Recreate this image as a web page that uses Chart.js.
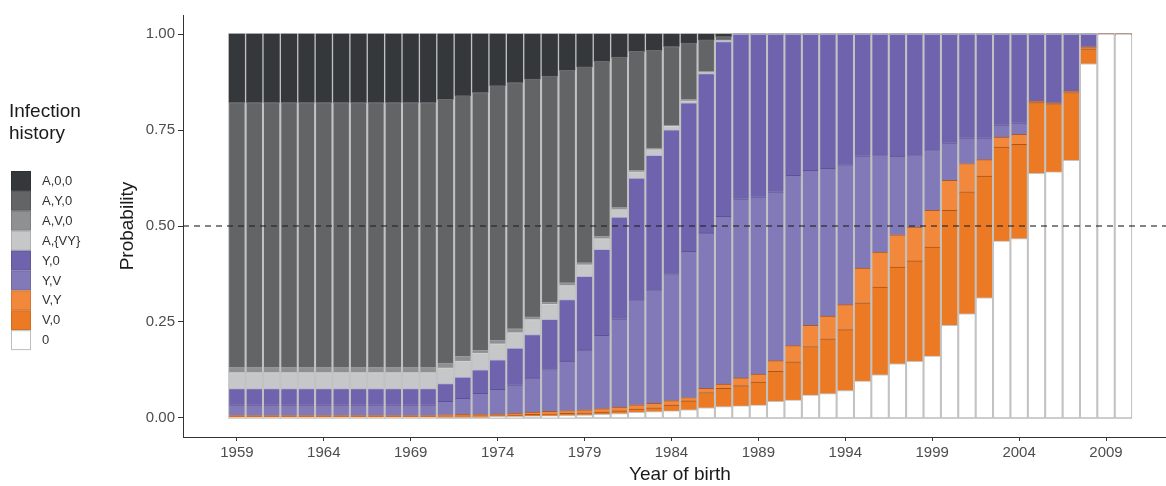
<!DOCTYPE html>
<html lang="en">
<head>
<meta charset="UTF-8" />
<title>Infection history by year of birth</title>
<script src="https://cdn.jsdelivr.net/npm/chart.js"></script>
<style>
  html, body { margin: 0; padding: 0; background: #fff; overflow: hidden; }
  #wrap { width: 1166px; height: 486px; }
</style>
</head>
<body>
<div id="wrap"><canvas id="chart" width="1166" height="486"></canvas></div>
<script>
  // years of birth (one bar each)
  const years = [1959, 1960, 1961, 1962, 1963, 1964, 1965, 1966, 1967, 1968, 1969, 1970,
    1971, 1972, 1973, 1974, 1975, 1976, 1977, 1978, 1979, 1980,
    1981, 1982, 1983, 1984, 1985, 1986, 1987, 1988, 1989, 1990,
    1991, 1992, 1993, 1994, 1995, 1996, 1997, 1998, 1999, 2000,
    2001, 2002, 2003, 2004, 2005, 2006, 2007, 2008, 2009, 2010];
  const tickYears = [1959, 1964, 1969, 1974, 1979, 1984, 1989, 1994, 1999, 2004, 2009];
  const yTicks = [0, 0.25, 0.5, 0.75, 1];

  // probabilities per infection history, bottom of the stack first
  const none = [0, 0, 0, 0, 0, 0, 0, 0, 0, 0, 0, 0,
    .002, .002, .002, .003, .003, .004, .005, .006, .007, .009,
    .011, .014, .016, .018, .021, .026, .029, .031, .033, .043,
    .046, .059, .063, .071, .096, .112, .141, .147, .161, .241,
    .271, .313, .461, .467, .637, .641, .671, .923, 1, 1];
  const v0 = [.003, .003, .003, .003, .003, .003, .003, .003, .003, .003, .003, .003,
    .003, .003, .004, .003, .004, .005, .005, .006, .006, .006,
    .007, .009, .010, .015, .023, .040, .048, .053, .060, .078,
    .100, .127, .143, .159, .204, .229, .252, .262, .284, .300,
    .318, .317, .245, .246, .185, .178, .177, .039, 0, 0];
  const vy = [.003, .003, .003, .003, .003, .003, .003, .003, .003, .003, .003, .003,
    .003, .004, .004, .004, .005, .006, .007, .007, .008, .009,
    .010, .011, .012, .012, .009, .011, .011, .020, .021, .028,
    .042, .055, .059, .065, .090, .091, .084, .088, .096, .078,
    .074, .043, .026, .026, .003, .002, .003, .005, 0, 0];
  const yv = [.028, .028, .028, .028, .028, .028, .028, .028, .028, .028, .028, .028,
    .035, .042, .054, .064, .074, .089, .109, .129, .156, .191,
    .230, .274, .296, .331, .381, .405, .437, .467, .462, .440,
    .444, .404, .385, .365, .293, .254, .205, .189, .158, .098,
    .067, .057, .032, .030, 0, 0, 0, 0, 0, 0];
  const y0 = [.042, .042, .042, .042, .042, .042, .042, .042, .042, .042, .042, .042,
    .046, .055, .061, .077, .096, .113, .131, .160, .192, .224,
    .265, .317, .350, .375, .387, .415, .456, .429, .424, .411,
    .368, .355, .350, .340, .317, .314, .318, .314, .301, .283,
    .270, .270, .236, .231, .175, .179, .149, .033, 0, 0];
  const avy = [.042, .042, .042, .042, .042, .042, .042, .042, .042, .042, .042, .042,
    .041, .042, .044, .042, .040, .039, .039, .037, .030, .028,
    .020, .016, .015, .009, .005, .003, .002, 0, 0, 0,
    0, 0, 0, 0, 0, 0, 0, 0, 0, 0,
    0, 0, 0, 0, 0, 0, 0, 0, 0, 0];
  const av0 = [.013, .013, .013, .013, .013, .013, .013, .013, .013, .013, .013, .013,
    .013, .012, .007, .009, .010, .007, .006, .007, .005, .006,
    .005, .004, .004, .003, .004, .003, .002, 0, 0, 0,
    0, 0, 0, 0, 0, 0, 0, 0, 0, 0,
    0, 0, 0, 0, 0, 0, 0, 0, 0, 0];
  const ay0 = [.691, .691, .691, .691, .691, .691, .691, .691, .691, .691, .691, .691,
    .687, .680, .672, .664, .642, .620, .589, .554, .511, .456,
    .392, .310, .255, .205, .147, .082, .009, 0, 0, 0,
    0, 0, 0, 0, 0, 0, 0, 0, 0, 0,
    0, 0, 0, 0, 0, 0, 0, 0, 0, 0];
  const a00 = [.178, .178, .178, .178, .178, .178, .178, .178, .178, .178, .178, .178,
    .170, .160, .152, .134, .126, .117, .109, .094, .085, .071,
    .060, .045, .042, .032, .023, .015, .006, 0, 0, 0,
    0, 0, 0, 0, 0, 0, 0, 0, 0, 0,
    0, 0, 0, 0, 0, 0, 0, 0, 0, 0];

  const series = [
    { label: '0',      data: none, fill: '#ffffff', edge: '#c4c4c4' },
    { label: 'V,0',    data: v0,   fill: '#ec7a24', edge: '#a9561a' },
    { label: 'V,Y',    data: vy,   fill: '#f2883c', edge: '#a65a2e' },
    { label: 'Y,V',    data: yv,   fill: '#8279b8', edge: '#5c5297' },
    { label: 'Y,0',    data: y0,   fill: '#6f63ad', edge: '#b9b3d8' },
    { label: 'A,{VY}', data: avy,  fill: '#c6c7c9', edge: '#d2d3d5' },
    { label: 'A,V,0',  data: av0,  fill: '#8f9092', edge: '#9a9b9d' },
    { label: 'A,Y,0',  data: ay0,  fill: '#636466', edge: '#6b6c6e' },
    { label: 'A,0,0',  data: a00,  fill: '#35383b', edge: '#35383b' }
  ];

  const FONT = 'Liberation Sans, Arial, sans-serif';

  // light grey behind the bars shows through the gaps as bar outlines
  const panel = {
    id: 'panel',
    beforeDatasetsDraw(chart) {
      const { ctx, scales: { x, y } } = chart;
      const l = x.getPixelForValue(years[0] - 0.5);
      const r = x.getPixelForValue(years[years.length - 1] + 0.5);
      const t = y.getPixelForValue(1) - 1;
      const b = y.getPixelForValue(0) + 1;
      ctx.save();
      ctx.fillStyle = '#c2c2c2';
      ctx.fillRect(l, t, r - l, b - t);
      ctx.restore();
    }
  };

  const halfLine = {
    id: 'halfLine',
    afterDatasetsDraw(chart) {
      const { ctx, chartArea, scales: { y } } = chart;
      const py = y.getPixelForValue(0.5);
      ctx.save();
      ctx.strokeStyle = 'rgba(35,35,35,0.75)';
      ctx.lineWidth = 1.5;
      ctx.setLineDash([6, 5]);
      ctx.beginPath();
      ctx.moveTo(chartArea.left, py);
      ctx.lineTo(chartArea.right, py);
      ctx.stroke();
      ctx.restore();
    }
  };

  // x title and key; the original plot is slightly cut at the right, so its title sits right of centre
  const keyLegend = {
    id: 'keyLegend',
    afterDraw(chart) {
      const ctx = chart.ctx;
      ctx.save();
      ctx.fillStyle = '#1a1a1a';
      ctx.font = '19px ' + FONT;
      ctx.textBaseline = 'middle';
      ctx.textAlign = 'center';
      ctx.fillText('Year of birth', 680, 475);
      ctx.textAlign = 'left';
      ctx.fillText('Infection', 9, 112);
      ctx.fillText('history', 9, 134);
      const items = series.slice().reverse();
      const step = 19.9;
      items.forEach((s, k) => {
        const top = 171 + k * step;
        ctx.fillStyle = s.fill;
        ctx.fillRect(11, top, 20, step);
        ctx.strokeStyle = s.label === '0' ? '#bdbdbd' : 'rgba(0,0,0,0.12)';
        ctx.lineWidth = 1;
        ctx.strokeRect(11.5, top + 0.5, 19, step - 1);
        ctx.fillStyle = '#333333';
        ctx.font = '13px ' + FONT;
        ctx.fillText(s.label, 42, top + step / 2 + 0.5);
      });
      ctx.restore();
    }
  };

  new Chart(document.getElementById('chart'), {
    type: 'bar',
    data: {
      datasets: series.map(s => ({
        label: s.label,
        data: years.map((yr, i) => ({ x: yr, y: s.data[i] })),
        backgroundColor: s.fill,
        borderColor: s.edge,
        borderWidth: { top: s.label === 'A,0,0' ? 0 : 1, left: 0, right: 0, bottom: 0 },
        barThickness: 15.4
      }))
    },
    options: {
      responsive: false,
      animation: false,
      devicePixelRatio: 1,
      layout: { padding: { top: 15, left: 0, right: 0, bottom: 0 } },
      plugins: { legend: { display: false }, tooltip: { enabled: false } },
      scales: {
        x: {
          type: 'linear',
          stacked: true,
          offset: false,
          min: 1955.9,
          max: 2012.45,
          afterBuildTicks: s => { s.ticks = tickYears.map(v => ({ value: v })); },
          afterFit: s => { s.height = 49; },
          grid: { display: true, drawOnChartArea: false, offset: false, tickLength: 4, color: '#333' },
          border: { display: true, color: '#333', width: 1 },
          ticks: { color: '#4d4d4d', font: { family: FONT, size: 15 }, padding: 3, maxRotation: 0,
                   callback: v => String(v) },
          title: { display: false }
        },
        y: {
          stacked: true,
          min: -0.05,
          max: 1.05,
          afterBuildTicks: s => { s.ticks = yTicks.map(v => ({ value: v })); },
          afterFit: s => { s.width = 183; },
          grid: { display: true, drawOnChartArea: false, tickLength: 5, color: '#333' },
          border: { display: true, color: '#333', width: 1 },
          ticks: { color: '#4d4d4d', font: { family: FONT, size: 15 }, padding: 3,
                   callback: v => v.toFixed(2) },
          title: { display: true, text: 'Probability', color: '#1a1a1a',
                   font: { family: FONT, size: 19 }, padding: { top: 116, bottom: 0 } }
        }
      }
    },
    plugins: [panel, halfLine, keyLegend]
  });
</script>
</body>
</html>
